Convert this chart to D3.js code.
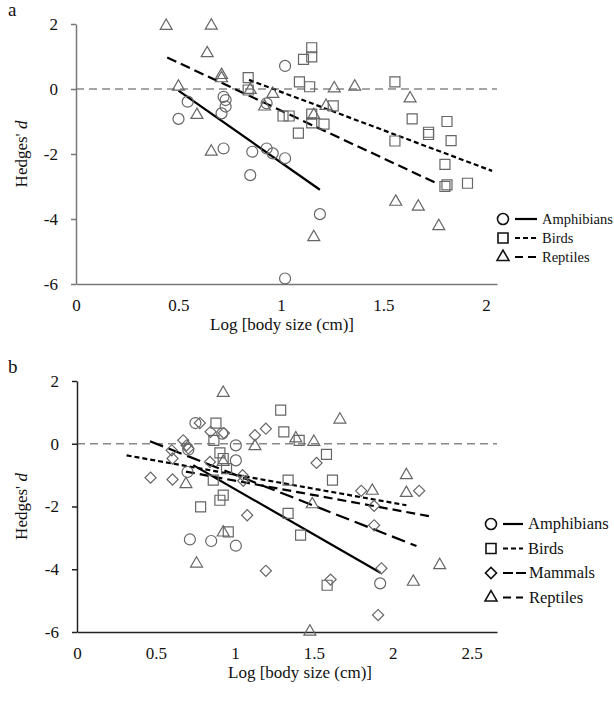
<!DOCTYPE html>
<html>
<head>
<meta charset="utf-8">
<script src="https://cdn.jsdelivr.net/npm/d3@7"></script>
<style>
body { margin: 0; background: #fff; }
svg text { font-family: "Liberation Serif", Tinos, "Times New Roman", "DejaVu Serif", serif; fill: #111; }
</style>
</head>
<body>
<div id="chart"></div>
<script>
// panel a : points [log body size, Hedges' d]
var amphA = [[1.02,0.71],[0.545,-0.39],[0.5,-0.92],[0.72,-0.24],[0.73,-0.34],[0.73,-0.54],[0.71,-0.75],
  [0.93,-0.44],[0.72,-1.83],[0.86,-1.93],[0.93,-1.83],[0.96,-1.98],[1.02,-2.13],[0.85,-2.65],
  [1.19,-3.85],[1.02,-5.83]];
var birdsA = [[1.15,1.27],[1.11,0.91],[1.15,0.99],[1.09,0.22],[1.14,0.07],[0.84,0.35],[0.84,-0.03],
  [1.01,-0.83],[1.04,-0.83],[1.15,-0.77],[1.15,-1.04],[1.085,-1.36],[1.255,-0.52],[1.21,-1.08],
  [1.556,0.22],[1.64,-0.92],[1.72,-1.4],[1.72,-1.33],[1.81,-1.0],[1.556,-1.6],[1.83,-1.59],
  [1.8,-2.32],[1.81,-2.95],[1.8,-3.0],[1.91,-2.9]];
var reptA = [[0.44,1.94],[0.66,1.95],[0.64,1.1],[0.71,0.43],[0.71,0.33],[0.5,0.07],[0.59,-0.8],
  [0.85,-0.03],[0.92,-0.54],[0.96,-0.15],[0.66,-1.93],[1.16,-0.8],[1.22,-0.52],[1.26,0.02],
  [1.36,0.07],[1.63,-0.29],[1.56,-3.47],[1.67,-3.62],[1.77,-4.22],[1.16,-4.56]];
// fitted lines, start and end
var fitAmphA = [[0.5,-0.05],[1.19,-3.1]];
var fitBirdsA = [[0.844,0.28],[2.03,-2.52]];
var fitReptA = [[0.445,0.97],[1.76,-2.9]];

// panel b
var amphB = [[0.75,0.66],[0.92,0.32],[1.006,-0.05],[1.006,-0.53],[0.705,-0.19],[0.7,-0.9],
  [0.715,-3.05],[0.85,-3.1],[1.006,-3.25],[1.92,-4.45]];
var birdsB = [[0.88,0.66],[1.29,1.07],[1.31,0.38],[0.867,0.11],[0.905,-0.29],[0.926,-0.47],
  [0.947,-0.79],[0.863,-1.16],[1.337,-1.16],[0.926,-1.64],[0.905,-1.8],[0.783,-2.01],
  [1.337,-2.22],[0.958,-2.81],[1.407,0.11],[1.58,-0.34],[1.618,-1.16],[1.416,-2.91],[1.584,-4.51]];
var mammB = [[0.778,0.66],[0.846,0.38],[0.93,0.34],[1.127,0.27],[1.196,0.48],[0.673,0.11],
  [0.6,-0.21],[0.605,-0.47],[0.694,-0.05],[0.705,-0.15],[0.842,-0.58],[0.466,-1.08],[0.605,-1.14],
  [1.049,-1.0],[1.053,-1.18],[1.078,-2.28],[1.517,-0.61],[1.8,-1.5],[2.167,-1.5],[1.882,-1.98],
  [1.882,-2.6],[1.196,-4.05],[1.928,-3.97],[1.606,-4.33],[1.907,-5.46]];
var reptB = [[0.926,1.62],[1.386,0.17],[1.5,0.06],[1.127,-0.08],[0.926,-0.58],[0.69,-1.29],
  [1.49,-1.93],[1.665,0.77],[2.086,-1.0],[2.086,-1.57],[1.87,-1.5],[0.926,-2.83],[0.757,-3.82],
  [1.475,-5.99],[2.297,-3.87],[2.13,-4.4]];
var fitAmphB = [[0.736,-0.68],[1.922,-4.11]];
var fitBirdsB = [[0.314,-0.37],[2.086,-1.96]];
var fitMammB = [[0.462,0.08],[2.15,-3.26]];
var fitReptB = [[0.69,-0.89],[2.255,-2.33]];

var yTicks = [-6,-4,-2,0,2];
var xTicksA = [0,0.5,1,1.5,2];
var xTicksB = [0,0.5,1,1.5,2,2.5];

var svg = d3.select("#chart").append("svg")
    .attr("width", 614)
    .attr("height", 707);

var symbols = {
  circle: d3.symbol().type(d3.symbolCircle).size(95),
  square: d3.symbol().type(d3.symbolSquare).size(100),
  triangle: d3.symbol().type(d3.symbolTriangle).size(62),
  diamond: d3.symbol().type(d3.symbolSquare).size(62)
};

function panel(p) {
  var x = d3.scaleLinear().domain(p.xDomain).range(p.xRange);
  var y = d3.scaleLinear().domain([-6,2]).range(p.yRange);
  var g = svg.append("g");

  // zero line
  g.append("line")
    .attr("x1", x(0)).attr("x2", p.xRange[1])
    .attr("y1", y(0)).attr("y2", y(0))
    .style("stroke", "#888").style("stroke-width", 1.3)
    .style("stroke-dasharray", "8,5");

  var ax = g.append("g").attr("transform", "translate(" + x(0) + ",0)")
    .call(d3.axisLeft(y).tickValues(yTicks).tickSize(5).tickSizeOuter(0).tickPadding(13)
      .tickFormat(function(d){ return String(d); }));
  var bx = g.append("g").attr("transform", "translate(0," + p.yRange[0] + ")")
    .call(d3.axisBottom(x).tickValues(p.xTicks).tickSize(0).tickPadding(15)
      .tickFormat(function(d){ return String(d); }));
  [ax, bx].forEach(function(a){
    a.selectAll("path,line").style("stroke", p.axisColor).style("stroke-width", 1.5);
    a.selectAll("text").style("font-size", "17px").style("font-family", null);
  });

  // regression lines
  p.fits.forEach(function(f){
    g.append("line")
      .attr("x1", x(f.pts[0][0])).attr("y1", y(f.pts[0][1]))
      .attr("x2", x(f.pts[1][0])).attr("y2", y(f.pts[1][1]))
      .style("stroke", "#000").style("stroke-width", 2.2)
      .style("stroke-dasharray", f.dash);
  });

  // points
  p.series.forEach(function(s){
    g.selectAll(null).data(s.data).enter().append("path")
      .attr("d", symbols[s.shape])
      .attr("transform", function(d){
        return "translate(" + x(d[0]) + "," + y(d[1]) + ")" + (s.shape == "diamond" ? " rotate(45)" : "");
      })
      .style("fill", "none").style("stroke", "#666").style("stroke-width", 1.2);
  });

  // titles
  g.append("text").attr("x", 8).attr("y", p.yRange[1] - 8).text(p.label).style("font-size", "19px");
  g.append("text")
    .attr("x", p.xTitle).attr("y", p.yRange[0] + 46)
    .attr("text-anchor", "middle").style("font-size", "17px")
    .text("Log [body size (cm)]");
  var yt = g.append("text")
    .attr("transform", "translate(27," + (p.yRange[0] + p.yRange[1]) / 2 + ") rotate(-90)")
    .attr("text-anchor", "middle").style("font-size", "17px");
  yt.append("tspan").text("Hedges' ");
  yt.append("tspan").style("font-style", "italic").text("d");

  // legend
  p.legend.forEach(function(l, i){
    var ly = p.legY + i * p.legStep;
    g.append("path").attr("d", symbols[l.shape])
      .attr("transform", "translate(" + p.legX + "," + ly + ")" + (l.shape == "diamond" ? " rotate(45)" : ""))
      .style("fill", "none").style("stroke", "#111").style("stroke-width", 1.6);
    g.append("line")
      .attr("x1", p.legX + 12).attr("x2", p.legX + 12 + l.len)
      .attr("y1", ly).attr("y2", ly)
      .style("stroke", "#000").style("stroke-width", 2.2).style("stroke-dasharray", l.dash);
    g.append("text").attr("x", p.legX + 14 + l.len + l.gap).attr("y", ly + 5)
      .style("font-size", p.legFont + "px").text(l.name);
  });
}

panel({
  label: "a", xDomain: [0, 2.054], xRange: [76, 497], yRange: [284, 24], xTicks: xTicksA,
  axisColor: "#777", xTitle: 282,
  series: [{shape: "circle", data: amphA}, {shape: "square", data: birdsA}, {shape: "triangle", data: reptA}],
  fits: [{pts: fitAmphA, dash: null}, {pts: fitBirdsA, dash: "5,3"}, {pts: fitReptA, dash: "10,5"}],
  legX: 503, legY: 219, legStep: 19, legFont: 14.5,
  legend: [{shape: "circle", name: "Amphibians", dash: null, len: 22, gap: 3},
           {shape: "square", name: "Birds", dash: "5,3", len: 22, gap: 3},
           {shape: "triangle", name: "Reptiles", dash: "8,5", len: 22, gap: 3}]
});

panel({
  label: "b", xDomain: [0, 2.66], xRange: [77, 497], yRange: [632, 381], xTicks: xTicksB,
  axisColor: "#222", xTitle: 300,
  series: [{shape: "circle", data: amphB}, {shape: "square", data: birdsB},
           {shape: "diamond", data: mammB}, {shape: "triangle", data: reptB}],
  fits: [{pts: fitAmphB, dash: null}, {pts: fitBirdsB, dash: "5,3"},
         {pts: fitMammB, dash: "14,6"}, {pts: fitReptB, dash: "9,5"}],
  legX: 491, legY: 524, legStep: 24.5, legFont: 16.5,
  legend: [{shape: "circle", name: "Amphibians", dash: null, len: 20, gap: 3},
           {shape: "square", name: "Birds", dash: "5,3", len: 20, gap: 3},
           {shape: "diamond", name: "Mammals", dash: "10,3", len: 24, gap: 0},
           {shape: "triangle", name: "Reptiles", dash: "8,5", len: 20, gap: 4}]
});
</script>
</body>
</html>
